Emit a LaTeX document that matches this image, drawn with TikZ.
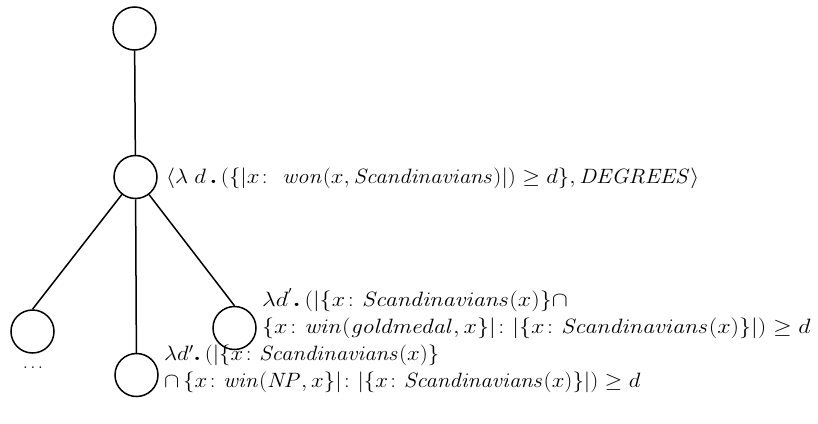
\documentclass[tikz,border=0pt]{standalone}
\usepackage{amsmath,amssymb}
\newcommand{\wideline}[2][1.1]{\scalebox{#1}[1]{$#2$}}
\begin{document}
\begin{tikzpicture}[x=1pt,y=-1pt,
  treenode/.style={circle,draw,line width=1.5pt,minimum size=43pt,inner sep=0pt},
  edge/.style={line width=1.5pt},
  formula/.style={anchor=west,inner sep=0pt,font=\fontsize{21}{27}\selectfont,align=left}]
\useasboundingbox (0,0) rectangle (818,423);
% tree nodes
\node[treenode] (top) at (134.5,28.5) {};
\node[treenode] (mid) at (135.5,177) {};
\node[treenode] (left) at (32.5,331.5) {};
\node[treenode] (down) at (136.5,375) {};
\node[treenode] (right) at (234.5,328) {};
% branches
\draw[edge] (top) -- (mid);
\draw[edge] (mid) -- (left.north);
\draw[edge] (mid) -- (down);
\draw[edge] (mid) -- (right.north);
\node[font=\fontsize{17}{18}\selectfont] (dots) at (33,368) {$\ldots$};
% semantic values
\node[formula] (l1) at (166,178)
  {\wideline{\langle\lambda\;d\,\boldsymbol{.}\,(\{|x\colon\ \mathit{won}(x,\mathit{Scandinavians})|)\geq d\},\mathit{DEGREES}\rangle}};
\node[formula] (l2) at (262,313.5)
  {\wideline[1.16]{\lambda d^{'}\boldsymbol{.}\,(|\{x\colon\mathit{Scandinavians}(x)\}\cap}\\
   \wideline[1.16]{\{x\colon\mathit{win}(\mathit{goldmedal},x\}|\colon|\{x\colon\mathit{Scandinavians}(x)\}|)\geq d}};
\node[formula] (l3) at (164,369)
  {\wideline{\lambda d'\boldsymbol{.}\,(|\{x\colon\mathit{Scandinavians}(x)\}}\\
   \wideline{\cap\,\{x\colon\mathit{win}(\mathit{NP},x\}|\colon|\{x\colon\mathit{Scandinavians}(x)\}|)\geq d}};
\end{tikzpicture}
\end{document}
